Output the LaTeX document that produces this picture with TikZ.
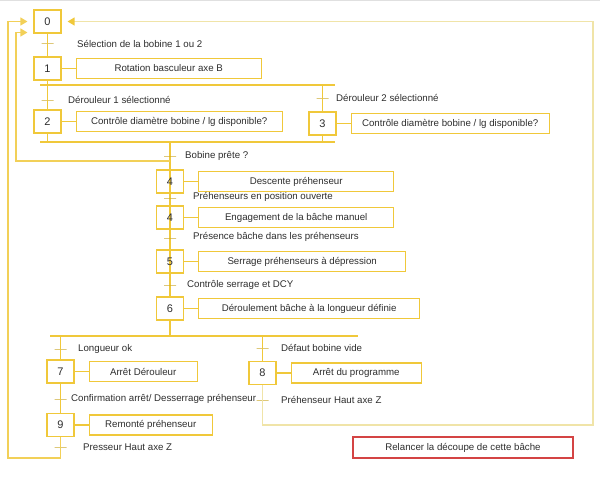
\documentclass[tikz,border=0pt]{standalone}
\usepackage{fontspec}
\setmainfont{Liberation Sans}
\usepackage{xcolor}
\usetikzlibrary{arrows.meta,backgrounds,positioning}

\definecolor{grafjaune}{RGB}{240,200,58}
\definecolor{jaunepale}{RGB}{240,228,168}
\definecolor{texte}{RGB}{45,45,45}
\definecolor{rougebox}{RGB}{212,68,68}

\begin{document}
\begin{tikzpicture}[
		x=1pt, y=-1pt,
		font=\fontsize{9.7}{11}\selectfont,
		>={Triangle[length=7pt,width=8pt]},
		% Node styles
		etape/.style={
			rectangle, draw=grafjaune, line width=1.2pt,
			minimum width=27pt, minimum height=23pt,
			inner sep=0pt, text=texte, font=\fontsize{11}{12}\selectfont
		},
		action/.style={
			rectangle, draw=grafjaune, line width=1.2pt,
			minimum height=20pt, inner sep=0pt, text=texte
		},
		trans/.style={
			rectangle, draw=grafjaune!85!black, line width=1pt,
			minimum width=12pt, minimum height=0pt, inner sep=0pt
		},
		recep/.style={anchor=west, inner sep=0pt, text=texte},
		lien/.style={draw=grafjaune, line width=1.3pt},
		barre/.style={draw=grafjaune, line width=2.8pt},
		boucle/.style={->, draw=grafjaune!85, line width=1.2pt, shorten >=6pt},
		bouclepale/.style={-{Triangle[length=7pt,width=8pt,color=grafjaune]},
			draw=jaunepale, line width=1.4pt, shorten >=6pt},
		note/.style={
			rectangle, draw=rougebox, line width=1.2pt,
			minimum width=220pt, minimum height=21pt,
			inner sep=0pt, text=texte
		}
	]
	\useasboundingbox (0,0) rectangle (600,477);
	\draw[black!12] (0,0.6) -- (600,0.6);
	
	%% ─── INITIAL STEP AND BRANCH SELECTION ─────────────────────────────────
	\node[etape] (s0) at (47.5,21.5) {0};
	\node[trans] (t1) at (47.5,43) {};
	\node[recep] (r1) at (77,44) {Sélection de la bobine 1 ou 2};
	\node[etape] (s1) at (47.5,68.5) {1};
	\node[action, right=14pt of s1, minimum width=185pt] (a1) {Rotation basculeur axe B};
	
	\coordinate (b1w) at (40,85);  \coordinate (b1e) at (335,85);
	\coordinate (b2w) at (40,142); \coordinate (b2e) at (335,142);
	\draw[barre] (b1w) -- (b1e);
	\draw[barre] (b2w) -- (b2e);
	
	% Dérouleur 1
	\node[trans] (t2) at (47.5,100) {};
	\node[recep] (r2) at (68,100) {Dérouleur 1 sélectionné};
	\node[etape] (s2) at (47.5,121.5) {2};
	\node[action, right=14pt of s2, minimum width=206pt] (a2) {Contrôle diamètre bobine / lg disponible?};
	
	% Dérouleur 2
	\node[trans] (t3) at (322.5,98) {};
	\node[recep] (r3) at (336,98) {Dérouleur 2 sélectionné};
	\node[etape] (s3) at (322.5,123.5) {3};
	\node[action, right=14pt of s3, minimum width=198pt] (a3) {Contrôle diamètre bobine / lg disponible?};
	
	\draw[lien] (s0)--(s1); \draw[lien] (s1)--(s1 |- b1w);
	\draw[lien] (s2 |- b1w)--(s2); \draw[lien] (s2)--(s2 |- b2w);
	\draw[lien] (s3 |- b1w)--(s3); \draw[lien] (s3)--(s3 |- b2w);
	\draw[lien] (s1)--(a1); \draw[lien] (s2)--(a2); \draw[lien] (s3)--(a3);
	
	%% ─── MAIN SEQUENCE ─────────────────────────────────────────────────────
	\node[trans] (t4) at (170,156) {};
	\node[recep] (r4) at (185,156) {Bobine prête ?};
	\node[etape] (s4a) at (170,181.5) {4};
	\node[action, right=14pt of s4a, minimum width=195pt] (a4a) {Descente préhenseur};
	
	\node[trans] (t5) at (170,198) {};
	\node[recep] (r5) at (193,197) {Préhenseurs en position ouverte};
	\node[etape] (s4b) at (170,217.5) {4};
	\node[action, right=14pt of s4b, minimum width=195pt] (a4b) {Engagement de la bâche manuel};
	
	\node[trans] (t6) at (170,238) {};
	\node[recep] (r6) at (193,237) {Présence bâche dans les préhenseurs};
	\node[etape] (s5) at (170,261.5) {5};
	\node[action, right=14pt of s5, minimum width=207pt] (a5) {Serrage préhenseurs à dépression};
	
	\node[trans] (t7) at (170,285) {};
	\node[recep] (r7) at (187,285) {Contrôle serrage et DCY};
	\node[etape] (s6) at (170,308.5) {6};
	\node[action, right=14pt of s6, minimum width=221pt] (a6) {Déroulement bâche à la longueur définie};
	
	\begin{scope}[on background layer]
		\draw[lien] (s4a |- b2w)--(s6.north);
	\end{scope}
	\draw[lien] (s4a)--(a4a); \draw[lien] (s4b)--(a4b);
	\draw[lien] (s5)--(a5); \draw[lien] (s6)--(a6);
	
	%% ─── END BRANCHES ──────────────────────────────────────────────────────
	\coordinate (b3w) at (50,336); \coordinate (b3e) at (358,336);
	\draw[barre] (b3w) -- (b3e);
	
	% Longueur ok
	\node[trans] (t8) at (60.5,349) {};
	\node[recep] (r8) at (78,349) {Longueur ok};
	\node[etape] (s7) at (60.5,371.5) {7};
	\node[action, right=14pt of s7, minimum width=108pt] (a7) {Arrêt Dérouleur};
	\node[trans] (t9) at (60.5,399) {};
	\node[recep] (r9) at (71,399) {Confirmation arrêt/ Desserrage préhenseur};
	\node[etape] (s9) at (60.5,425) {9};
	\node[action, right=14pt of s9, minimum width=123pt] (a9) {Remonté préhenseur};
	\node[trans] (t10) at (60.5,447) {};
	\node[recep] (r10) at (83,447) {Presseur Haut axe Z};
	
	% Défaut bobine
	\node[trans] (t11) at (262.5,348) {};
	\node[recep] (r11) at (281,348) {Défaut bobine vide};
	\node[etape] (s8) at (262.5,373) {8};
	\node[action, right=14pt of s8, minimum width=130pt] (a8) {Arrêt du programme};
	\node[trans] (t12) at (262.5,400) {};
	\node[recep] (r12) at (281,400) {Préhenseur Haut axe Z};
	
	\draw[lien] (s6)--(s6 |- b3w);
	\draw[lien] (s7 |- b3w)--(s7); \draw[lien] (s7)--(s9);
	\draw[lien] (s8 |- b3w)--(s8);
	\draw[lien] (s7)--(a7); \draw[lien] (s9)--(a9); \draw[lien] (s8)--(a8);
	
	%% ─── RETURN LOOPS ──────────────────────────────────────────────────────
	\coordinate (i1) at (170,161); \coordinate (i2) at (16,161); \coordinate (i3) at (16,32.5);
	\draw[boucle] (i1) -- (i2) -- (i3) -- (s0.west |- i3);
	
	\coordinate (o1) at (60.5,458); \coordinate (o2) at (8,458); \coordinate (o3) at (8,21.5);
	\draw[boucle] (s9) -- (o1) -- (o2) -- (o3) -- (s0.west);
	
	\coordinate (d1) at (262.5,425); \coordinate (d2) at (593,425); \coordinate (d3) at (593,21.5);
	\draw[bouclepale] (s8) -- (d1) -- (d2) -- (d3) -- (s0.east);
	
	% Relaunch note
	\node[note] (relance) at (463,447.5) {Relancer la découpe de cette bâche};
	
\end{tikzpicture}
\end{document}
